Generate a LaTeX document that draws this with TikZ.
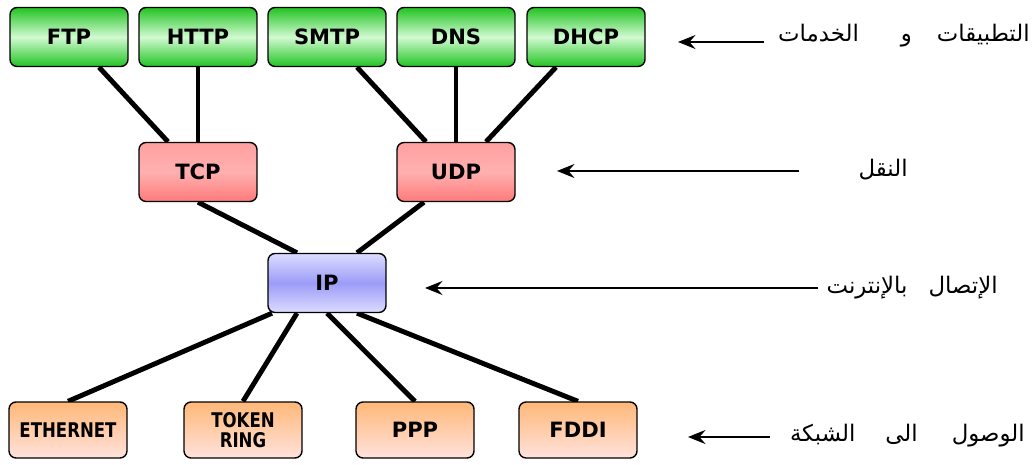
\documentclass[tikz,border=0pt]{standalone}
\usepackage{fontspec}
\setmainfont{DejaVu Sans}
\newfontfamily\arabicfont[Script=Arabic]{DejaVu Sans}
\newfontfamily\narrowfont[FakeStretch=0.82]{DejaVu Sans}
\TeXXeTstate=1
\usetikzlibrary{calc,arrows.meta,backgrounds}

\definecolor{appdark}{HTML}{22C322}
\definecolor{applight}{HTML}{D2FAD2}
\definecolor{trdark}{HTML}{FF7A7A}
\definecolor{trlight}{HTML}{FFB0B0}
\definecolor{ipdark}{HTML}{9C9CF8}
\definecolor{iplight}{HTML}{DCDCFF}
\definecolor{nettop}{HTML}{FFB878}
\definecolor{netbot}{HTML}{FFE2DC}

\begin{document}
\begin{tikzpicture}[x=0.02cm, y=-0.02cm,
  box/.style={draw, line width=0.8pt, rounded corners=4pt, minimum width=2.36cm, minimum height=1.18cm, align=center, font=\bfseries\fontsize{12}{14}\selectfont},
  app/.style={box, top color=appdark, bottom color=appdark, middle color=applight},
  trans/.style={box, top color=trlight!70!trdark, bottom color=trdark, middle color=trlight},
  inet/.style={box, top color=iplight, bottom color=iplight, middle color=ipdark},
  net/.style={box, minimum height=1.12cm, top color=nettop, bottom color=netbot},
  narrow/.style={font=\narrowfont\bfseries\fontsize{11.5}{12}\selectfont},
  link/.style={line width=2.8pt},
  arrow/.style={-{Stealth[length=10pt, width=8pt, inset=3.5pt]}, line width=0.6pt},
  layer/.style={anchor=east, inner sep=0pt, font=\arabicfont\fontsize{13}{15}\selectfont}
]
\useasboundingbox (0,0) rectangle (1034,465);

% Applications
\node[app] (ftp)  at (69,37)  {FTP};
\node[app] (http) at (198,37) {HTTP};
\node[app] (smtp) at (327,37) {SMTP};
\node[app] (dns)  at (456,37) {DNS};
\node[app] (dhcp) at (586,37) {DHCP};

% Transport
\node[trans] (tcp) at (198,172) {TCP};
\node[trans] (udp) at (456,172) {UDP};

% Internet
\node[inet] (ip) at (327,283) {IP};

% Network access
\node[net, narrow] (eth)   at (68,430)  {ETHERNET};
\node[net, narrow] (token) at (243,430) {TOKEN\\[-1pt]RING};
\node[net] (ppp)   at (415,430) {PPP};
\node[net] (fddi)  at (578,430) {FDDI};

\begin{scope}[on background layer]
\draw[link] ($(ftp.south)+(30,0)$) -- ($(tcp.north)+(-30,0)$);
\draw[link] (http.south) -- (tcp.north);
\draw[link] ($(smtp.south)+(30,0)$) -- ($(udp.north)+(-30,0)$);
\draw[link] (dns.south) -- (udp.north);
\draw[link] ($(dhcp.south)+(-30,0)$) -- ($(udp.north)+(30,0)$);

\draw[link] (tcp.south) -- ($(ip.north)+(-30,0)$);
\draw[link] ($(udp.south)+(-32,0)$) -- ($(ip.north)+(30,0)$);

\draw[link] ($(ip.south)+(-55,0)$) -- (eth.north);
\draw[link] ($(ip.south)+(-30,0)$) -- (token.north);
\draw[link] (ip.south) -- (ppp.north);
\draw[link] ($(ip.south)+(30,0)$) -- (fddi.north);
\end{scope}

% Layer labels
\node[layer] (l1) at (1030,36) {\beginR التطبيقات\hspace{5mm}و\hspace{8.4mm}الخدمات\endR};
\node[layer] (l2) at (908,170) {\beginR النقل\endR};
\node[layer] (l3) at (998,288) {\beginR الإتصال\hspace{4.2mm}بالإنترنت\endR};
\node[layer] (l4) at (1025,436) {\beginR الوصول\hspace{6.8mm}الى\hspace{6mm}الشبكة\endR};

\coordinate (t1) at (678,42);
\coordinate (t2) at (557,171);
\coordinate (t3) at (425,288);
\coordinate (t4) at (688,437);

\draw[arrow] ($(l1.west)+(-14,6)$) -- (t1);
\draw[arrow] ($(l2.west)+(-59,1)$) -- (t2);
\draw[arrow] ($(l3.west)+(-8,0)$) -- (t3);
\draw[arrow] ($(l4.west)+(-20,1)$) -- (t4);

\end{tikzpicture}
\end{document}
